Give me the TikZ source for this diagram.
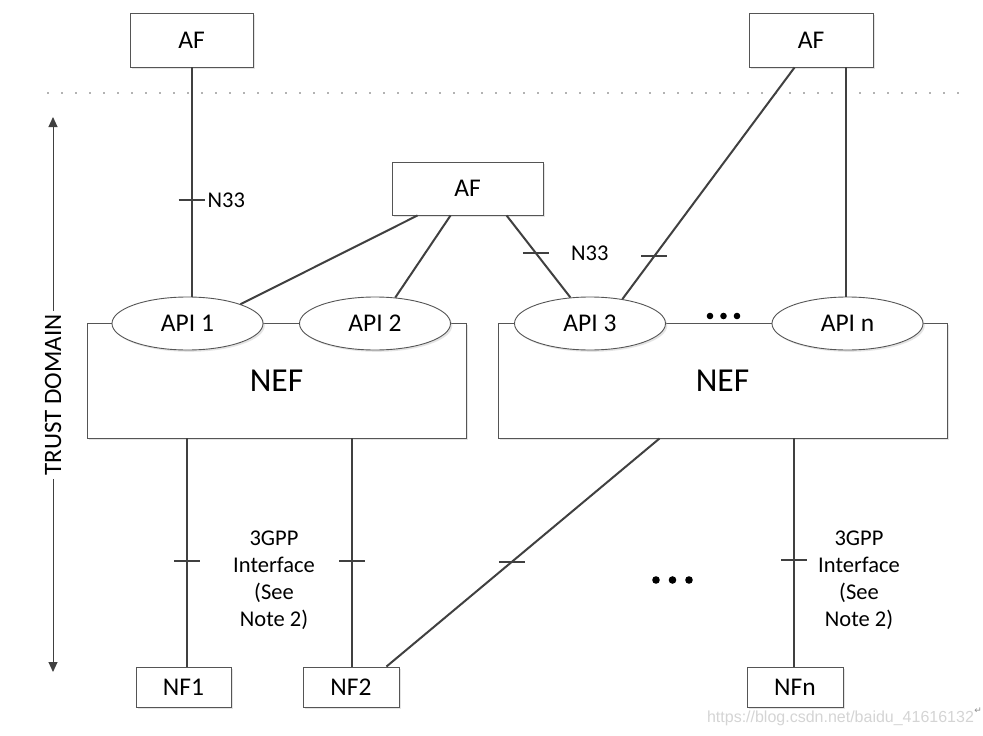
\documentclass[tikz,border=0pt]{standalone}
\usepackage{fontspec}
\setmainfont{Carlito}
\newfontfamily\wmfont{Liberation Sans}
\newfontfamily\symfont{DejaVu Sans}
\usetikzlibrary{calc,shapes.geometric,shadows,arrows.meta}
\definecolor{ln}{HTML}{404040}
\definecolor{bd}{HTML}{555555}
\begin{document}
\begin{tikzpicture}[x=1pt,y=-1pt,
  shad/.style={drop shadow={shadow xshift=1.8pt,shadow yshift=-1.8pt,fill=black!30,opacity=0.35}},
  box/.style={rectangle,draw=bd,line width=0.9pt,fill=white,inner sep=0pt,shad,
    font=\fontsize{25.5}{30}\selectfont},
  api/.style={ellipse,draw=bd,line width=0.9pt,fill=white,inner sep=0pt,shad,
    minimum width=151pt,minimum height=53pt,font=\fontsize{25.5}{30}\selectfont},
  nef/.style={rectangle,draw=bd,line width=0.9pt,fill=white,inner sep=0pt,shad,
    minimum height=115pt,font=\fontsize{33.5}{38}\selectfont},
  conn/.style={draw=ln,line width=2pt},
  tickmk/.style={draw=ln,line width=2pt},
  lbl/.style={font=\fontsize{22.5}{26.5}\selectfont,inner sep=0pt},
  note/.style={font=\fontsize{22.5}{27}\selectfont,align=center,inner sep=0pt},
  thin/.style={draw=ln,line width=1pt}
]
\useasboundingbox (0,0) rectangle (983,736);

% dotted trust boundary
\draw[draw=black!60,line width=1.8pt,line cap=round,dash pattern=on 0pt off 14pt] (48,93) -- (968,93);

% AF boxes
\node[box,minimum width=123pt,minimum height=54pt] (AF1) at (191.5,40) {AF};
\node[box,minimum width=124pt,minimum height=54pt] (AF2) at (811,40) {AF};
\node[box,minimum width=151pt,minimum height=53pt] (AFm) at (467.5,188.5) {AF};

% NEF boxes
\node[nef,minimum width=379pt] (NEF1) at (276.5,380.5) {NEF};
\node[nef,minimum width=449pt] (NEF2) at (722.5,380.5) {NEF};

% API ellipses
\node[api] (API1) at (187.5,323.5) {API 1};
\node[api] (API2) at (375,323.5) {API 2};
\node[api] (API3) at (590,323.5) {API 3};
\node[api] (APIn) at (847.5,323.5) {API n};

% NF boxes
\node[box,minimum width=95pt,minimum height=40pt] (NF1) at (183.5,687) {NF1};
\node[box,minimum width=96pt,minimum height=40pt] (NF2) at (351,687) {NF2};
\node[box,minimum width=96pt,minimum height=40pt] (NFn) at (795,687) {NFn};

% trust domain
\node[lbl,rotate=90,inner sep=3pt,font=\fontsize{25}{28}\selectfont] (trust) at (53,395) {TRUST DOMAIN};
\coordinate (ttop) at (53,117);
\coordinate (tbot) at (53,672);
\draw[thin,-{Triangle[length=10pt,width=9pt]}] (trust.east) -- (ttop);
\draw[thin,-{Triangle[length=10pt,width=9pt]}] (trust.west) -- (tbot);

% AF1 -- API1
\draw[conn] (AF1.south) -- coordinate[pos=0.578] (t1) (AF1.south |- API1.north);
\draw[tickmk] ($(t1)+(-13,0)$) -- ($(t1)+(13,0)$);
\node[lbl,anchor=west] (n33a) at ($(t1)+(16,0)$) {N33};

% middle AF connectors
\draw[conn] ($(AFm.south west)+(26,0)$) -- (API1.20);
\draw[conn] ($(AFm.south west)+(59,0)$) -- (API2.52);
\draw[conn] ($(AFm.south west)+(115,0)$) -- coordinate[pos=0.46] (t2) (API3.127);
\draw[tickmk] ($(t2)+(-13,0)$) -- ($(t2)+(13,0)$);
\node[lbl,anchor=west] (n33b) at ($(t2)+(35,0)$) {N33};

% right AF connectors
\draw[conn] ($(AF2.south west)+(46,0)$) -- coordinate[pos=0.814] (t5) (API3.37);
\draw[tickmk] ($(t5)+(-13,0)$) -- ($(t5)+(13,0)$);
\coordinate (v2) at ($(AF2.south west)+(97,0)$);
\draw[conn] (v2) -- (v2 |- APIn.north);

% dots between API3 and API n
\fill[black] (710,316) circle (3.3pt) (723.5,316) circle (3.3pt) (737,316) circle (3.3pt);

% NEF1 -- NF1, NF2
\coordinate (a1) at ($(NF1.north)+(3.5,0)$);
\draw[conn] (a1 |- NEF1.south) -- coordinate[pos=0.537] (t3) (a1);
\draw[tickmk] ($(t3)+(-13,0)$) -- ($(t3)+(13,0)$);
\coordinate (a2) at ($(NF2.north)+(1,0)$);
\draw[conn] (a2 |- NEF1.south) -- coordinate[pos=0.537] (t4) (a2);
\draw[tickmk] ($(t4)+(-13,0)$) -- ($(t4)+(13,0)$);
\node[note] (note1) at (274,580) {3GPP\\Interface\\(See\\Note 2)};

% NEF2 -- NF2 diagonal
\draw[conn] ($(NEF2.south west)+(162,0)$) -- coordinate[pos=0.541] (t6) ($(NF2.north east)+(-13,0)$);
\draw[tickmk] ($(t6)+(-13,0)$) -- ($(t6)+(13,0)$);

% bottom dots
\fill[black] (656,580) circle (3.8pt) (672.5,580) circle (3.8pt) (689,580) circle (3.8pt);

% NEF2 -- NFn
\coordinate (a3) at ($(NFn.north)+(-1,0)$);
\draw[conn] (a3 |- NEF2.south) -- coordinate[pos=0.533] (t7) (a3);
\draw[tickmk] ($(t7)+(-13,0)$) -- ($(t7)+(13,0)$);
\node[note] (note2) at (859,580.5) {3GPP\\Interface\\(See\\Note 2)};

% watermark
\node[font=\wmfont\fontsize{16}{18}\selectfont,text=black!17,inner sep=0pt] (wm) at (840.5,718) {https://blog.csdn.net/baidu\_41616132};
\node[font=\symfont\fontsize{9}{10}\selectfont,text=black!45,inner sep=0pt,anchor=west] (ret) at (wm.north east) {↵};
\end{tikzpicture}
\end{document}
